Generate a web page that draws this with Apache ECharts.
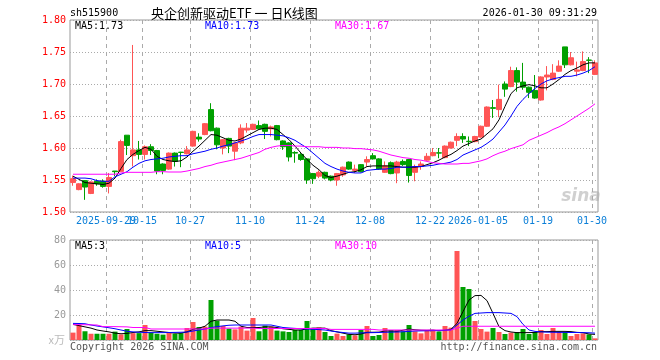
<!DOCTYPE html>
<html><head><meta charset="utf-8">
<script src="https://cdn.jsdelivr.net/npm/echarts@6/dist/echarts.min.js"></script>
<style>html,body{margin:0;padding:0;background:#fff}#c{width:660px;height:360px}</style>
</head><body><div id="c"></div>
<script>
const dates = ['2025-09-19','2025-09-22','2025-09-23','2025-09-24','2025-09-25','2025-09-26','2025-09-29','2025-09-30',
'2025-10-09','2025-10-10','2025-10-13','2025-10-14','2025-10-15','2025-10-16','2025-10-17','2025-10-20','2025-10-21','2025-10-22','2025-10-23','2025-10-24','2025-10-27','2025-10-28','2025-10-29','2025-10-30','2025-10-31',
'2025-11-03','2025-11-04','2025-11-05','2025-11-06','2025-11-07','2025-11-10','2025-11-11','2025-11-12','2025-11-13','2025-11-14','2025-11-17','2025-11-18','2025-11-19','2025-11-20','2025-11-21','2025-11-24','2025-11-25','2025-11-26','2025-11-27','2025-11-28',
'2025-12-01','2025-12-02','2025-12-03','2025-12-04','2025-12-05','2025-12-08','2025-12-09','2025-12-10','2025-12-11','2025-12-12','2025-12-15','2025-12-16','2025-12-17','2025-12-18','2025-12-19','2025-12-22','2025-12-23','2025-12-24','2025-12-25','2025-12-26','2025-12-29','2025-12-30','2025-12-31',
'2026-01-05','2026-01-06','2026-01-07','2026-01-08','2026-01-09','2026-01-12','2026-01-13','2026-01-14','2026-01-15','2026-01-16','2026-01-19','2026-01-20','2026-01-21','2026-01-22','2026-01-23','2026-01-26','2026-01-27','2026-01-28','2026-01-29','2026-01-30'];

const openP = [1.546,1.535,1.549,1.529,1.548,1.548,1.540,1.564,1.5635,1.620,
1.588,1.597,1.590,1.602,1.596,1.575,1.567,1.592,1.5935,1.591,
1.603,1.617,1.621,1.660,1.631,1.600,1.615,1.595,1.608,1.628,
1.629,1.635,1.637,1.630,1.635,1.611,1.608,1.593,1.590,1.583,
1.560,1.556,1.562,1.556,1.550,1.558,1.578,1.565,1.574,1.578,
1.588,1.583,1.562,1.577,1.561,1.579,1.582,1.562,1.571,1.581,
1.588,1.5925,1.585,1.600,1.612,1.618,1.6105,1.610,1.617,1.634,
1.663,1.660,1.700,1.696,1.721,1.703,1.695,1.690,1.675,1.711,
1.707,1.720,1.758,1.730,1.720,1.721,1.7375,1.715];
const closeP = [1.552,1.544,1.539,1.547,1.544,1.540,1.554,1.563,1.610,1.604,
1.597,1.590,1.602,1.596,1.564,1.565,1.592,1.579,1.593,1.597,
1.626,1.614,1.638,1.627,1.605,1.613,1.603,1.608,1.631,1.631,
1.637,1.630,1.626,1.633,1.613,1.602,1.586,1.592,1.582,1.550,
1.552,1.562,1.553,1.550,1.560,1.570,1.567,1.567,1.563,1.582,
1.583,1.567,1.572,1.560,1.578,1.574,1.557,1.571,1.575,1.587,
1.593,1.592,1.603,1.609,1.618,1.614,1.610,1.618,1.634,1.664,
1.662,1.676,1.692,1.721,1.703,1.695,1.687,1.678,1.711,1.714,
1.717,1.728,1.730,1.741,1.722,1.735,1.737,1.733];
const lowP = [1.541,1.534,1.519,1.528,1.541,1.538,1.529,1.556,1.563,1.589,
1.571,1.582,1.582,1.589,1.559,1.559,1.566,1.571,1.570,1.590,
1.602,1.610,1.620,1.626,1.598,1.590,1.592,1.581,1.606,1.624,
1.628,1.629,1.614,1.618,1.612,1.597,1.579,1.577,1.580,1.544,
1.544,1.553,1.551,1.548,1.541,1.555,1.566,1.561,1.562,1.571,
1.582,1.566,1.561,1.559,1.545,1.572,1.546,1.548,1.566,1.580,
1.587,1.584,1.584,1.599,1.603,1.608,1.603,1.609,1.616,1.633,
1.647,1.648,1.680,1.695,1.688,1.691,1.678,1.677,1.674,1.690,
1.706,1.719,1.725,1.729,1.712,1.720,1.717,1.714];
const highP = [1.557,1.545,1.550,1.548,1.551,1.551,1.561,1.564,1.613,1.620,
1.761,1.611,1.604,1.606,1.597,1.576,1.593,1.593,1.594,1.603,
1.627,1.623,1.639,1.670,1.632,1.614,1.616,1.609,1.637,1.639,
1.638,1.643,1.638,1.635,1.636,1.612,1.609,1.595,1.592,1.584,
1.561,1.565,1.563,1.557,1.561,1.571,1.579,1.574,1.575,1.587,
1.592,1.584,1.579,1.579,1.580,1.582,1.583,1.574,1.579,1.592,
1.600,1.600,1.604,1.610,1.623,1.623,1.618,1.619,1.635,1.665,
1.675,1.699,1.704,1.727,1.726,1.733,1.696,1.714,1.712,1.728,
1.731,1.737,1.758,1.750,1.735,1.751,1.742,1.737];

const ma5 = [1.556,1.551,1.546,1.545,1.544,1.543,1.545,1.553,1.568,1.582,1.590,1.596,1.601,1.598,1.587,1.582,1.580,1.579,1.580,1.586,1.595,1.603,1.612,1.621,1.620,1.616,1.612,1.611,1.614,1.619,1.624,1.629,
1.631,1.631,1.629,1.621,1.613,1.603,1.592,1.582,1.573,1.566,1.557,1.554,1.556,1.559,1.562,1.563,1.566,1.571,1.572,1.572,1.572,1.572,1.571,1.570,1.570,1.570,1.571,1.574,
1.577,1.581,1.586,1.590,1.596,1.603,1.607,1.611,1.614,1.622,1.630,1.644,1.665,1.685,1.694,1.697,1.699,1.697,1.694,1.694,1.700,1.707,1.715,1.721,1.725,1.730,1.733,1.733];
const ma10 = [1.553,1.553,1.553,1.552,1.549,1.548,1.548,1.555,1.559,1.563,1.570,1.576,1.580,1.582,1.583,1.584,1.586,1.587,1.588,1.588,1.591,1.593,1.595,1.598,1.600,1.603,1.605,1.608,1.611,1.614,1.618,1.621,
1.621,1.621,1.620,1.619,1.616,1.612,1.606,1.600,1.592,1.584,1.576,1.571,1.567,1.564,1.562,1.561,1.561,1.565,1.566,1.567,1.567,1.568,1.570,1.570,1.570,1.571,1.571,1.572,
1.573,1.575,1.576,1.578,1.582,1.589,1.593,1.597,1.601,1.607,1.614,1.625,1.636,1.650,1.665,1.676,1.685,1.693,1.700,1.705,1.708,1.710,1.712,1.712,1.714,1.717,1.721,1.727];
const ma30 = [1.559,1.559,1.559,1.559,1.559,1.559,1.559,1.559,1.561,1.562,1.562,1.562,1.562,1.562,1.563,1.563,1.5625,1.5625,1.5625,1.564,1.566,1.568,1.571,1.573,1.576,1.578,1.580,1.582,1.584,1.587,1.590,1.593,
1.598,1.601,1.603,1.604,1.604,1.603,1.603,1.602,1.602,1.602,1.601,1.601,1.601,1.600,1.600,1.599,1.599,1.598,1.597,1.595,1.592,1.589,1.587,1.585,1.584,1.582,1.581,1.579,
1.577,1.576,1.575,1.575,1.575,1.576,1.576,1.578,1.580,1.583,1.588,1.592,1.595,1.599,1.602,1.605,1.612,1.616,1.620,1.624,1.629,1.633,1.638,1.644,1.650,1.656,1.662,1.669];

const volume = [5.9,12,7,5,5,5,5,6.7,4.5,8.8,5.5,5.5,12,6,5,4.3,5.9,5,5.5,9.6,14.4,10.4,10.7,32,15.5,11.2,9.1,8.5,10.7,7.5,17.6,7,11.5,10.7,7.5,6.9,6.4,8,8,15.2,8.8,10.1,6.4,
3.2,5.1,3.2,4.5,3.7,8,11.2,3.2,4,9.6,8,8,6.9,12,6.9,5.3,7.5,8,6.7,11.2,9.9,71.2,42.4,40.8,15.2,8.8,6.7,9.6,6.4,4.8,5.9,6.4,8.8,4.8,6.4,8,4.8,9.6,6.4,6.4,3.2,4.8,5.3,4.5,1.3];
const volMa5 = [12.5,11.5,10.5,9.5,8,7.2,6.5,5.5,5,5.3,6,6.5,7.5,7.5,7,6.5,6,5.5,5.5,6.5,8.5,9.5,11,15,16,16,16,15,11,10,10,10,10.5,10.5,10,9,8.5,8,8,9,9.5,9.5,9.5,
7.5,6.5,5.5,4.5,4.2,4.8,6.2,6.2,6.3,7.2,7.2,7,7.8,8.8,8.2,7.8,7.7,7.9,7.3,7.8,8.6,13.3,22.7,32,35.5,35.7,31.5,21.3,10.7,7.5,6.4,5.9,5.9,5.9,6.1,6.7,6.7,6.9,6.9,6.9,6.7,6.1,5.9,4.8,4.5];
const volMa10 = [13.3,13.2,13,12,11.2,10.5,9.8,9,8,7,6.5,6.2,6,5.9,5.9,5.9,6,6.1,6.2,6.4,7.2,8,8.8,9.9,10.7,11.3,11.8,12,12,12,12,12,12,12,11,10,9.6,9.3,9,8.8,8.6,8.3,8,
7.2,6.5,6,5.5,5.5,5.7,5.8,5.9,6,6.2,6.3,6.4,6.6,6.9,7.2,7.3,7.4,7.5,7.6,7.8,8,12,16,19,21.3,21.6,21.9,21.9,21.9,21.6,21.3,18.7,12.5,8,6.9,6.5,6.3,6.2,6.1,6.1,6,6,5.9,5.8,5.5];
const volMa30 = [12.3,12.3,12.2,12.1,12,10.7,10.7,10.7,10.6,10.5,10,10,10,8.8,8.8,8.8,8.8,8.8,8.8,8.8,8.8,8.8,8.8,9.5,9.5,9.5,9.5,9.5,9.5,9.5,9.5,9.2,9.2,9.2,9.2,9.2,9.2,9.2,9.2,9.2,9.2,9.2,9.2,
8.5,8.5,8.5,8.5,8.5,8.5,8.5,8.5,8,8,8,8,8,8,8,8,8,8,8,8,8,9.5,11,11,11,11,11,11,11,11,11,11,11,11,11,11,11,11,11,11,11,11,11,11,11];

const tickIndex = [6,12,20,30,40,50,60,68,78,87];
const tickText = ['2025-09-29','10-15','10-27','11-10','11-24','12-08','12-22','2026-01-05','01-19','01-30'];
const priceTicks = [1.50,1.55,1.60,1.65,1.70,1.75,1.80];
const volTicks = [0,20,40,60,80];

const RED = '#ff5555', GREEN = '#00a000';
const MONO = '"DejaVu Sans Mono", "Liberation Mono", monospace';
const P_MIN = priceTicks[0], P_MAX = priceTicks[priceTicks.length - 1];
const V_MIN = volTicks[0], V_MAX = volTicks[volTicks.length - 1];

const candles = dates.map((d, i) => [openP[i], closeP[i], lowP[i], highP[i]]);
const volData = volume.map((v, i) => ({value: v, itemStyle: {color: closeP[i] >= openP[i] ? RED : GREEN}}));
const boundaries = dates.map((d, i) => 'b' + i).concat(['b' + dates.length]);

const chart = echarts.init(document.getElementById('c'), null, {renderer: 'canvas'});

function txt(text, x, y, fill, font, align) {
  return {type: 'text', silent: true, z: 100, style: {text: text, x: x, y: y, fill: fill, font: font,
    textAlign: align || 'left', align: align || 'left', textVerticalAlign: 'middle', verticalAlign: 'middle'}};
}
function dayAxis(gi) {
  return {type: 'category', gridIndex: gi, data: dates, boundaryGap: true,
    axisLine: {show: false}, axisTick: {show: false}, axisLabel: {show: false}, splitLine: {show: false}};
}
function boundaryAxis(gi) {
  return {type: 'category', gridIndex: gi, data: boundaries, boundaryGap: false,
    axisLine: {show: false}, axisTick: {show: false}, axisLabel: {show: false}, splitLine: {show: false}};
}
const labelSeries = {type: 'line', xAxisIndex: 2, yAxisIndex: 0, data: boundaries.map(() => null), symbol: 'none', silent: true,
  markLine: {silent: true, symbol: ['none', 'none'], animation: false,
    lineStyle: {color: 'rgba(0,0,0,0)', width: 0},
    data: tickIndex.map((t, j) => ({xAxis: t, label: {show: true, position: 'start', formatter: tickText[j], color: '#0b7fd8',
      fontFamily: MONO, fontSize: 10, distance: 4}}))}};
const hGrid = () => ({show: true, lineStyle: {color: '#aaa', type: [1, 2], width: 1}});

const texts = [
  txt('sh515900', 70, 13, '#000', '10px ' + MONO),
  txt('央企创新驱动ETF 一 日K线图', 151, 13, '#000', '13px "Noto Sans CJK SC"'),
  txt('2026-01-30 09:31:29', 597, 13, '#000', '10px ' + MONO, 'right'),
  txt('MA5:1.73', 75, 26, '#000', '10px ' + MONO),
  txt('MA10:1.73', 205, 26, '#0000ff', '10px ' + MONO),
  txt('MA30:1.67', 335, 26, '#ff00ff', '10px ' + MONO),
  txt('MA5:3', 75, 246, '#000', '10px ' + MONO),
  txt('MA10:5', 205, 246, '#0000ff', '10px ' + MONO),
  txt('MA30:10', 335, 246, '#ff00ff', '10px ' + MONO),
  txt('x万', 65, 340, '#bbb', '11px "Noto Sans CJK SC"', 'right'),
  txt('Copyright 2026 SINA.COM', 70, 347, '#555', '10px ' + MONO),
  txt('http://finance.sina.com.cn', 597, 347, '#555', '10px ' + MONO, 'right'),
  txt('sina', 581, 197, 'rgba(170,170,170,0.55)', 'italic bold 17px "DejaVu Sans"', 'center')
];

chart.setOption({
  animation: false,
  backgroundColor: '#fff',
  grid: [
    {left: 70, right: 62, top: 20, height: 192, show: true, borderColor: '#999', borderWidth: 1, backgroundColor: 'transparent'},
    {left: 70, right: 62, top: 240, height: 100, show: true, borderColor: '#999', borderWidth: 1, backgroundColor: 'transparent'}
  ],
  xAxis: [dayAxis(0), dayAxis(1), boundaryAxis(0), boundaryAxis(1)],
  yAxis: [
    {type: 'value', gridIndex: 0, min: P_MIN, max: P_MAX, interval: 0.05,
     axisLine: {show: false}, axisTick: {show: false},
     axisLabel: {color: '#ff0000', fontFamily: MONO, fontSize: 10, margin: 4, formatter: (v) => v.toFixed(2)},
     splitLine: hGrid()},
    {type: 'value', gridIndex: 1, min: V_MIN, max: V_MAX, interval: 20,
     axisLine: {show: false}, axisTick: {show: false},
     axisLabel: {color: '#999', fontFamily: MONO, fontSize: 10, margin: 4, formatter: (v) => v === 0 ? '' : String(v)},
     splitLine: hGrid()}
  ],
  series: [
    labelSeries,
    {type: 'candlestick', xAxisIndex: 0, yAxisIndex: 0, data: candles, barWidth: 5, z: 3,
     itemStyle: {color: RED, color0: GREEN, borderColor: RED, borderColor0: GREEN, borderWidth: 1}},
    {type: 'line', xAxisIndex: 0, yAxisIndex: 0, data: ma5, symbol: 'none', z: 4, lineStyle: {color: '#000', width: 1}},
    {type: 'line', xAxisIndex: 0, yAxisIndex: 0, data: ma10, symbol: 'none', z: 4, lineStyle: {color: '#0000ff', width: 1}},
    {type: 'line', xAxisIndex: 0, yAxisIndex: 0, data: ma30, symbol: 'none', z: 4, lineStyle: {color: '#ff00ff', width: 1}},
    {type: 'bar', xAxisIndex: 1, yAxisIndex: 1, data: volData, barWidth: 5, z: 3},
    {type: 'line', xAxisIndex: 1, yAxisIndex: 1, data: volMa5, symbol: 'none', z: 4, lineStyle: {color: '#000', width: 1}},
    {type: 'line', xAxisIndex: 1, yAxisIndex: 1, data: volMa10, symbol: 'none', z: 4, lineStyle: {color: '#0000ff', width: 1}},
    {type: 'line', xAxisIndex: 1, yAxisIndex: 1, data: volMa30, symbol: 'none', z: 4, lineStyle: {color: '#ff00ff', width: 1}}
  ],
  graphic: texts
});

// vertical dashed grid lines at date ticks, positioned with the chart's own scales
function dashLines(xAxisIndex, yAxisIndex, lo, hi) {
  const out = [];
  const c0 = chart.convertToPixel({xAxisIndex: xAxisIndex}, dates[0]);
  const c1 = chart.convertToPixel({xAxisIndex: xAxisIndex}, dates[1]);
  const half = (c1 - c0) / 2;
  const yTop = chart.convertToPixel({yAxisIndex: yAxisIndex}, hi);
  const yBot = chart.convertToPixel({yAxisIndex: yAxisIndex}, lo);
  tickIndex.forEach((t) => {
    const x = Math.round(chart.convertToPixel({xAxisIndex: xAxisIndex}, dates[t]) - half);
    for (let y = yTop; y < yBot; y += 8) {
      out.push({type: 'rect', silent: true, z: 1,
        shape: {x: x, y: y, width: 1, height: Math.min(4, yBot - y)}, style: {fill: '#aaa'}});
    }
  });
  return out;
}
const dashes = dashLines(0, 0, P_MIN, P_MAX).concat(dashLines(1, 1, V_MIN, V_MAX));
chart.setOption({graphic: {elements: dashes.concat(texts)}}, {replaceMerge: ['graphic']});
</script></body></html>
